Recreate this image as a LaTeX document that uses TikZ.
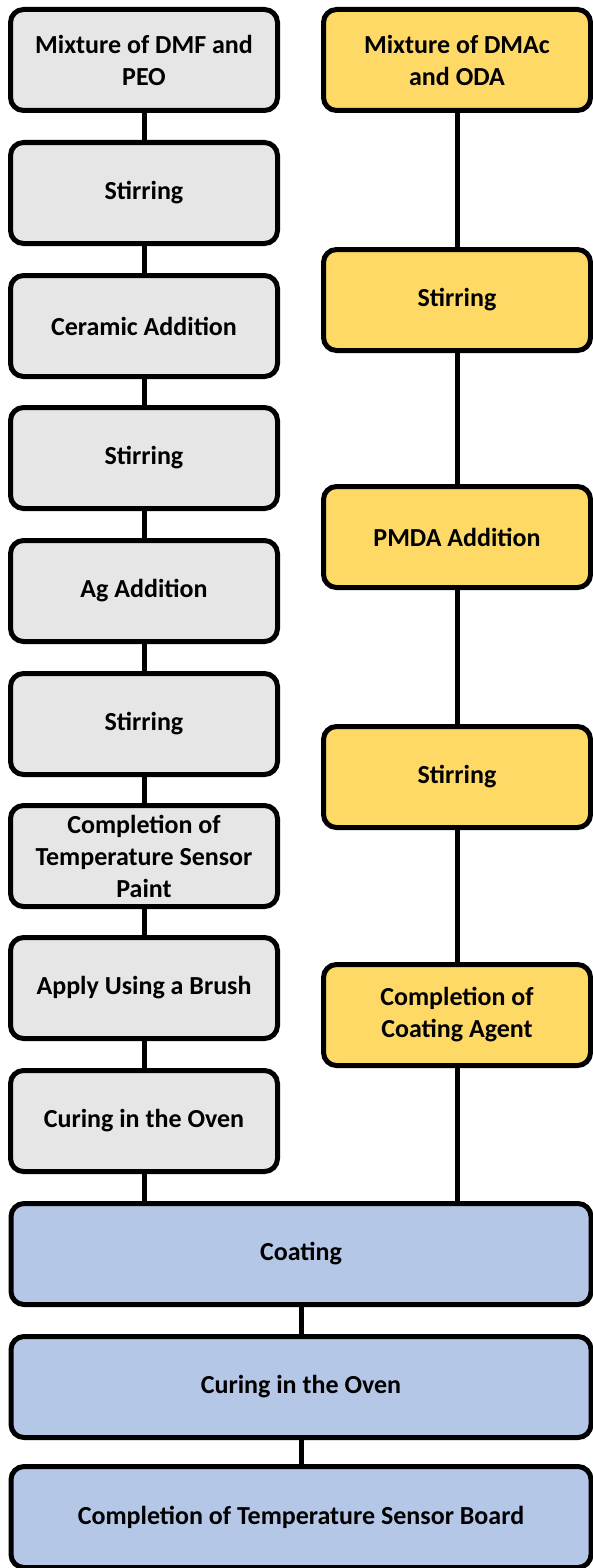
\documentclass[tikz,border=0pt]{standalone}
\usepackage{fontspec}
\setmainfont{Carlito}
\definecolor{gcol}{HTML}{E7E6E6}
\definecolor{ycol}{HTML}{FFD966}
\definecolor{bcol}{HTML}{B4C7E7}
\begin{document}
\begin{tikzpicture}[x=1pt,y=-1pt,
  baseproc/.style={draw=black,line width=5pt,rounded corners=13pt,minimum height=101pt,
    align=center,font=\fontsize{26}{32}\selectfont\bfseries,inner sep=0pt},
  grayproc/.style={baseproc,fill=gcol,minimum width=267pt},
  yellowproc/.style={baseproc,fill=ycol,minimum width=267pt},
  blueproc/.style={baseproc,fill=bcol,minimum width=580pt},
  linkline/.style={line width=5pt}]
\useasboundingbox (0,0) rectangle (592,1568);
% left column
\node[grayproc] (l1) at (144,60) {Mixture of DMF and\\PEO};
\node[grayproc] (l2) at (144,193) {Stirring};
\node[grayproc] (l3) at (144,326) {Ceramic Addition};
\node[grayproc] (l4) at (144,458) {Stirring};
\node[grayproc] (l5) at (144,591) {Ag Addition};
\node[grayproc] (l6) at (144,724) {Stirring};
\node[grayproc] (l7) at (144,856) {Completion of\\Temperature Sensor\\Paint};
\node[grayproc] (l8) at (144,988) {Apply Using a Brush};
\node[grayproc] (l9) at (144,1121) {Curing in the Oven};
% right column
\node[yellowproc] (r1) at (457,60) {Mixture of DMAc\\and ODA};
\node[yellowproc] (r2) at (457,300) {Stirring};
\node[yellowproc] (r3) at (457,537) {PMDA Addition};
\node[yellowproc] (r4) at (457,777) {Stirring};
\node[yellowproc] (r5) at (457,1015) {Completion of\\Coating Agent};
% bottom
\node[blueproc] (b1) at (301,1254) {Coating};
\node[blueproc] (b2) at (301,1387) {Curing in the Oven};
\node[blueproc] (b3) at (301,1517) {Completion of Temperature Sensor Board};
% connectors
\foreach \a/\b in {l1/l2,l2/l3,l3/l4,l4/l5,l5/l6,l6/l7,l7/l8,l8/l9,r1/r2,r2/r3,r3/r4,r4/r5,b1/b2,b2/b3}
  \draw[linkline] (\a.south) -- (\b.north);
\draw[linkline] (l9.south) -- (l9.south |- b1.north);
\draw[linkline] (r5.south) -- (r5.south |- b1.north);
\end{tikzpicture}
\end{document}
